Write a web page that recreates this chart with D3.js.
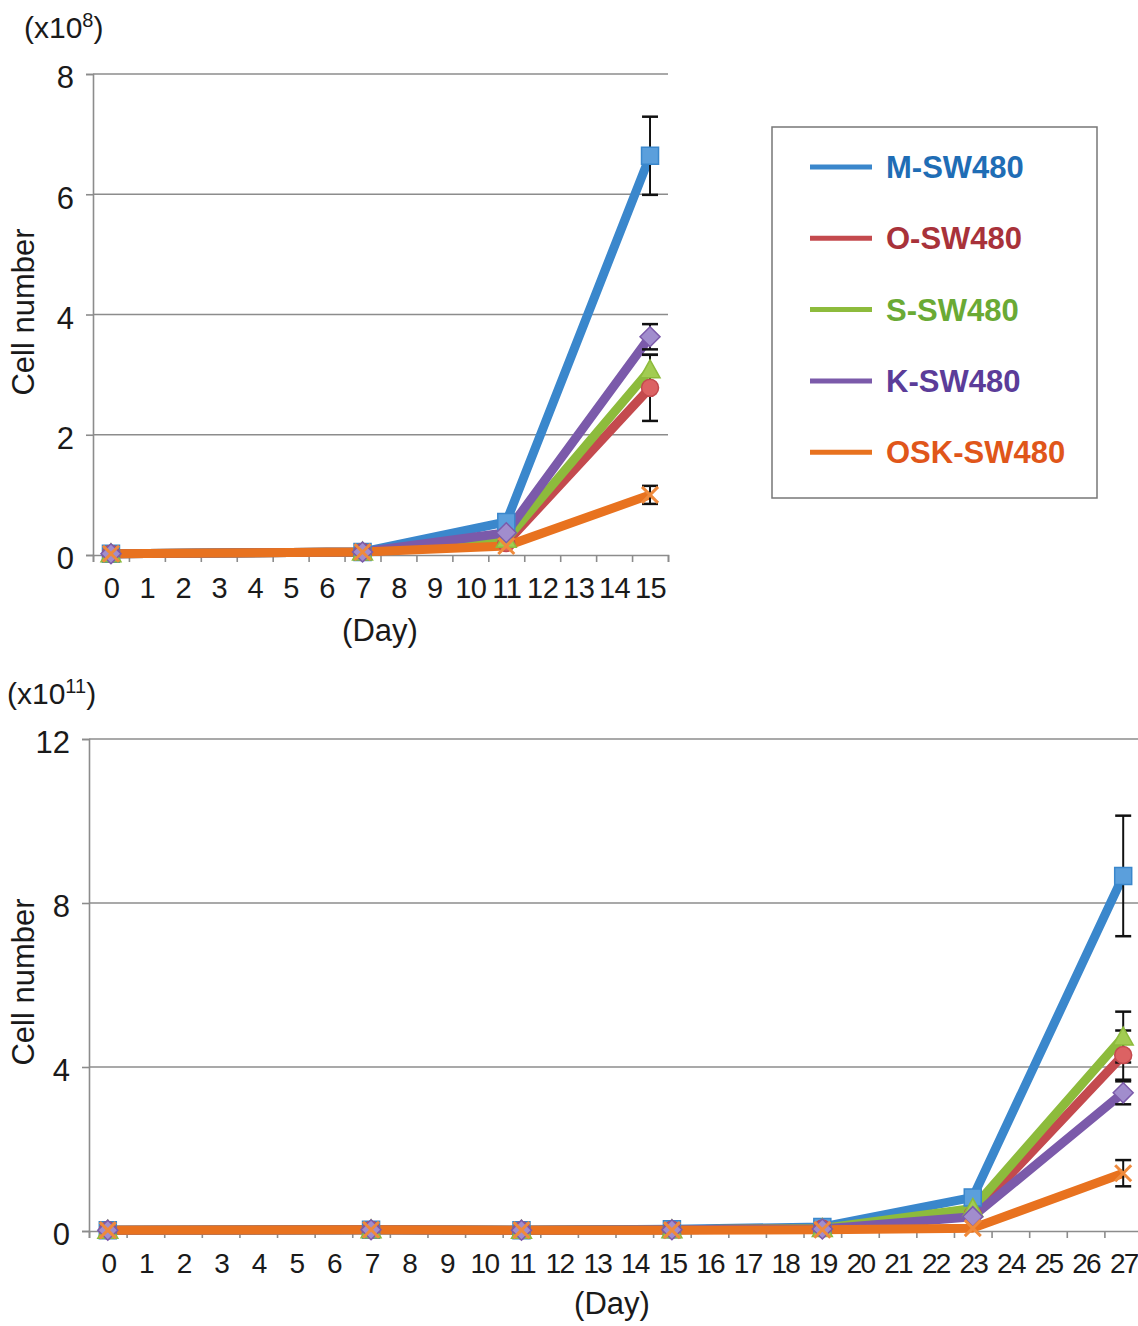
<!DOCTYPE html>
<html>
<head>
<meta charset="utf-8">
<script src="https://cdn.jsdelivr.net/npm/d3@7"></script>
<style>
  body { margin: 0; background: #fff; }
  svg text { font-family: "Liberation Sans", Arial, sans-serif; }
</style>
</head>
<body>
<div id="chart"></div>
<script>
// series names and colours
const seriesNames = ["M-SW480", "O-SW480", "S-SW480", "K-SW480", "OSK-SW480"];

// top panel (x10^8), measured days
const topDays = [0, 7, 11, 15];
const topM = [0.02, 0.05, 0.55, 6.64];
const topO = [0.02, 0.05, 0.2, 2.78];
const topS = [0.02, 0.05, 0.26, 3.08];
const topK = [0.02, 0.05, 0.37, 3.63];
const topOSK = [0.02, 0.05, 0.15, 1.0];
const topMErr = [0, 0, 0.05, 0.65];
const topOErr = [0, 0, 0.03, 0.55];
const topSErr = [0, 0, 0.03, 0.25];
const topKErr = [0, 0, 0.03, 0.21];
const topOSKErr = [0, 0, 0.02, 0.15];
const topTicks = [0, 2, 4, 6, 8];

// bottom panel (x10^11)
const botDays = [0, 7, 11, 15, 19, 23, 27];
const botM = [0.02, 0.03, 0.02, 0.04, 0.1, 0.82, 8.66];
const botO = [0.02, 0.03, 0.02, 0.03, 0.06, 0.4, 4.29];
const botS = [0.02, 0.03, 0.02, 0.03, 0.06, 0.55, 4.73];
const botK = [0.02, 0.03, 0.02, 0.03, 0.05, 0.35, 3.37];
const botOSK = [0.02, 0.03, 0.02, 0.02, 0.03, 0.07, 1.41];
const botMErr = [0, 0, 0, 0, 0.01, 0.05, 1.47];
const botOErr = [0, 0, 0, 0, 0, 0.03, 0.6];
const botSErr = [0, 0, 0, 0, 0, 0.03, 0.62];
const botKErr = [0, 0, 0, 0, 0, 0.03, 0.28];
const botOSKErr = [0, 0, 0, 0, 0, 0.01, 0.32];
const botTicks = [0, 4, 8, 12];

const lineColors = ["#3a87cc", "#c44a4e", "#8dbb3c", "#7b5aaa", "#e8721f"];
const markerFill = ["#5b9fdc", "#dc6263", "#a2cc52", "#a18dcd", "#ef8a3c"];
const legendText = ["#1f6db5", "#a8323a", "#6aaa35", "#5b3c99", "#e0561a"];
const markerShape = ["square", "circle", "triangle", "diamond", "x"];

const svg = d3.select("#chart").append("svg")
    .attr("width", 1138)
    .attr("height", 1326);

function markerPath(shape) {
    if (shape === "square") return "M-8.5,-8.5H8.5V8.5H-8.5Z";
    if (shape === "circle") return "M-8.5,0A8.5,8.5 0 1,0 8.5,0A8.5,8.5 0 1,0 -8.5,0Z";
    if (shape === "triangle") return "M0,-10L10,8H-10Z";
    if (shape === "diamond") return "M0,-10L10,0L0,10L-10,0Z";
    return "M-8,-8L8,8M8,-8L-8,8";
}

function drawChart(cfg) {
    const g = svg.append("g");

    const x = d3.scaleLinear()
        .domain([-0.5, cfg.nDays - 0.5])
        .range([cfg.left, cfg.right]);
    const y = d3.scaleLinear()
        .domain([0, cfg.yMax])
        .range([cfg.bottom, cfg.top]);

    // gridlines
    g.selectAll(".grid")
        .data(cfg.yTicks.filter(d => d > 0))
        .enter().append("line")
        .attr("x1", cfg.left).attr("x2", cfg.right)
        .attr("y1", d => y(d)).attr("y2", d => y(d))
        .attr("stroke", "#8c8c8c")
        .attr("stroke-width", 1.6);

    // y axis
    const yAxis = d3.axisLeft(y).tickValues(cfg.yTicks).tickSize(7).tickPadding(12);
    const ya = g.append("g")
        .attr("transform", "translate(" + cfg.left + ",0)")
        .call(yAxis);
    ya.select(".domain").attr("stroke", "#8c8c8c").attr("stroke-width", 1.6);
    ya.selectAll(".tick line").attr("stroke", "#8c8c8c").attr("stroke-width", 1.6);
    ya.selectAll(".tick text")
        .style("font-size", "31px")
        .attr("dy", "0.45em")
        .attr("fill", "#1a1a1a");

    // x axis: boundary ticks + category labels
    const bounds = d3.range(cfg.nDays + 1).map(d => d - 0.5);
    const xTicks = d3.axisBottom(x).tickValues(bounds).tickSize(7).tickFormat("");
    const xa = g.append("g")
        .attr("transform", "translate(0," + cfg.bottom + ")")
        .call(xTicks);
    xa.select(".domain").attr("stroke", "#8c8c8c").attr("stroke-width", 1.6);
    xa.selectAll(".tick line").attr("stroke", "#8c8c8c").attr("stroke-width", 1.6);

    const xLabels = d3.axisBottom(x).tickValues(d3.range(cfg.nDays)).tickSize(0).tickPadding(22);
    const xl = g.append("g")
        .attr("transform", "translate(0," + cfg.bottom + ")")
        .call(xLabels);
    xl.select(".domain").remove();
    xl.selectAll(".tick text")
        .style("font-size", cfg.xFont + "px")
        .style("letter-spacing", cfg.xSpacing + "px")
        .attr("fill", "#1a1a1a");

    // axis titles
    g.append("text")
        .attr("transform", "translate(34," + cfg.yTitleY + ") rotate(-90)")
        .attr("text-anchor", "middle")
        .style("font-size", "31px")
        .attr("fill", "#1a1a1a")
        .text("Cell number");

    g.append("text")
        .attr("x", cfg.dayX).attr("y", cfg.dayY)
        .attr("text-anchor", "middle")
        .style("font-size", "31px")
        .attr("fill", "#1a1a1a")
        .text("(Day)");

    const unit = g.append("text")
        .attr("x", cfg.unitX).attr("y", cfg.unitY)
        .style("font-size", "30px")
        .attr("fill", "#1a1a1a");
    unit.append("tspan").text("(x10");
    unit.append("tspan").attr("dy", -11).style("font-size", "20px").text(cfg.exp);
    unit.append("tspan").attr("dy", 11).text(")");

    const line = d3.line()
        .x(d => x(d.day))
        .y(d => y(d.value));

    const series = cfg.values.map((vals, i) => vals.map((v, j) => ({
        day: cfg.days[j], value: v, err: cfg.errs[i][j]
    })));

    // lines
    series.forEach((pts, i) => {
        g.append("path")
            .datum(pts)
            .attr("d", line)
            .attr("fill", "none")
            .attr("stroke", lineColors[i])
            .attr("stroke-width", 9)
            .attr("stroke-linejoin", "round");
    });

    // error bars
    series.forEach(pts => {
        const eb = g.append("g");
        pts.filter(d => d.err > 0.1).forEach(d => {
            const cx = x(d.day);
            eb.append("line")
                .attr("x1", cx).attr("x2", cx)
                .attr("y1", y(d.value - d.err)).attr("y2", y(d.value + d.err))
                .attr("stroke", "#111").attr("stroke-width", 2);
            [d.value - d.err, d.value + d.err].forEach(v => {
                eb.append("line")
                    .attr("x1", cx - 8).attr("x2", cx + 8)
                    .attr("y1", y(v)).attr("y2", y(v))
                    .attr("stroke", "#111").attr("stroke-width", 2.5);
            });
        });
    });

    // markers
    series.forEach((pts, i) => {
        g.selectAll(".m" + i)
            .data(pts)
            .enter().append("path")
            .attr("transform", d => "translate(" + x(d.day) + "," + y(d.value) + ")")
            .attr("d", markerPath(markerShape[i]))
            .attr("fill", markerShape[i] === "x" ? "none" : markerFill[i])
            .attr("stroke", markerShape[i] === "x" ? markerFill[i] : lineColors[i])
            .attr("stroke-width", markerShape[i] === "x" ? 3 : 1.5);
    });
}

drawChart({
    left: 93, right: 668, top: 74, bottom: 555,
    nDays: 16, yMax: 8, yTicks: topTicks,
    days: topDays,
    values: [topM, topO, topS, topK, topOSK],
    errs: [topMErr, topOErr, topSErr, topKErr, topOSKErr],
    xFont: 29, xSpacing: -0.5,
    yTitleY: 312, dayX: 380, dayY: 641,
    unitX: 24, unitY: 38, exp: "8"
});

drawChart({
    left: 89, right: 1142, top: 739, bottom: 1231,
    nDays: 28, yMax: 12, yTicks: botTicks,
    days: botDays,
    values: [botM, botO, botS, botK, botOSK],
    errs: [botMErr, botOErr, botSErr, botKErr, botOSKErr],
    xFont: 28, xSpacing: -1.8,
    yTitleY: 982, dayX: 612, dayY: 1314,
    unitX: 7, unitY: 704, exp: "11"
});

// legend
const legend = svg.append("g");
legend.append("rect")
    .attr("x", 772).attr("y", 127)
    .attr("width", 325).attr("height", 371)
    .attr("fill", "#fff")
    .attr("stroke", "#777").attr("stroke-width", 1.5);

seriesNames.forEach((name, i) => {
    const ly = 167 + i * 71.3;
    legend.append("line")
        .attr("x1", 810).attr("x2", 872)
        .attr("y1", ly).attr("y2", ly)
        .attr("stroke", lineColors[i]).attr("stroke-width", 5);
    legend.append("text")
        .attr("x", 886).attr("y", ly + 11)
        .style("font-size", "31px")
        .style("font-weight", "bold")
        .attr("fill", legendText[i])
        .text(name);
});
</script>
</body>
</html>
